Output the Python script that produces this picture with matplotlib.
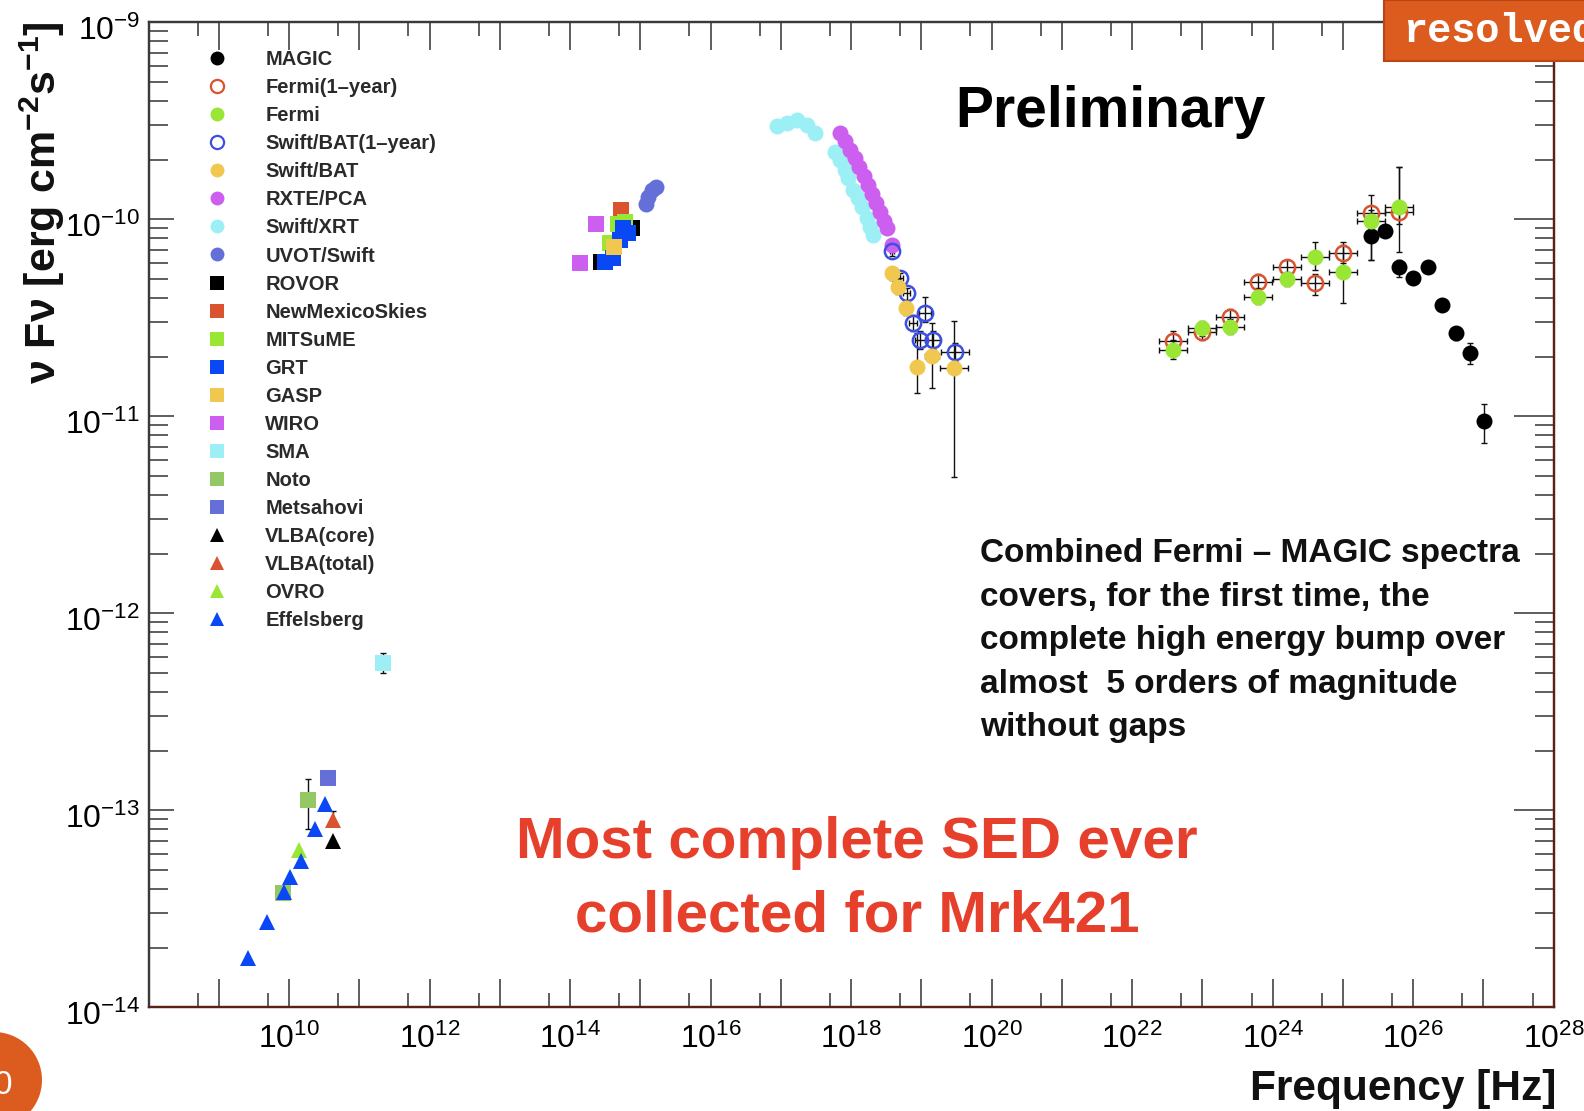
import matplotlib
matplotlib.use('Agg')
import matplotlib.pyplot as plt
import numpy as np
from matplotlib import font_manager
from matplotlib.lines import Line2D
from matplotlib.patches import Rectangle, Ellipse
from matplotlib.ticker import LogLocator, NullFormatter, FuncFormatter
from matplotlib.transforms import ScaledTranslation

plt.rcParams['font.family'] = ['Liberation Sans', 'DejaVu Sans']
plt.rcParams['mathtext.default'] = 'regular'

# ---------------- radio ----------------
effelsberg_nu = [2.64e9, 4.85e9, 8.35e9, 1.045e10, 1.46e10, 2.305e10, 3.2e10]
effelsberg_f = [1.77e-14, 2.72e-14, 3.85e-14, 4.59e-14, 5.55e-14, 8.0e-14, 1.08e-13]
ovro_nu = [1.4e10]
ovro_f = [6.28e-14]
noto_nu = [8.1e9, 1.88e10]
noto_f = [3.8e-14, 1.13e-13]
noto_lo = [3.6e-14, 8.0e-14]
noto_hi = [4.0e-14, 1.44e-13]
metsahovi_nu = [3.56e10]
metsahovi_f = [1.46e-13]
vlba_total_nu = [4.27e10]
vlba_total_f = [8.91e-14]
vlba_total_lo = [8.6e-14]
vlba_total_hi = [9.95e-14]
vlba_core_nu = [4.27e10]
vlba_core_f = [7.0e-14]
sma_nu = [2.2e11]
sma_f = [5.6e-13]
sma_lo = [5.0e-13]
sma_hi = [6.3e-13]

# ---------------- optical / UV ----------------
rovor_nu = [2.75e14, 7.62e14]
rovor_f = [6.07e-11, 9.0e-11]
nms_nu = [5.31e14]
nms_f = [1.11e-10]
mitsume_nu = [3.70e14, 4.85e14, 6.05e14]
mitsume_f = [7.55e-11, 9.46e-11, 9.7e-11]
grt_nu = [3.14e14, 4.08e14, 5.14e14, 5.68e14, 6.68e14]
grt_f = [6.08e-11, 6.35e-11, 7.83e-11, 9.0e-11, 8.5e-11]
gasp_nu = [4.22e14]
gasp_f = [7.24e-11]
wiro_nu = [1.38e14, 2.34e14]
wiro_f = [6.0e-11, 9.5e-11]
uvot_nu = [1.19e15, 1.30e15, 1.45e15, 1.67e15]
uvot_f = [1.19e-10, 1.30e-10, 1.41e-10, 1.45e-10]

# ---------------- X-ray ----------------
xrt_nu = [8.73e16, 1.21e17, 1.68e17, 2.33e17, 3.06e17, 5.90e17, 6.95e17, 8.19e17,
          9.12e17, 1.07e18, 1.27e18, 1.41e18, 1.67e18, 1.86e18, 2.07e18]
xrt_f = [2.97e-10, 3.09e-10, 3.19e-10, 3.01e-10, 2.75e-10, 2.20e-10, 2.0e-10, 1.78e-10,
         1.61e-10, 1.41e-10, 1.28e-10, 1.16e-10, 1.01e-10, 9.17e-11, 8.31e-11]
pca_nu = [6.95e17, 8.19e17, 9.64e17, 1.14e18, 1.29e18, 1.53e18, 1.74e18, 1.99e18,
          2.26e18, 2.58e18, 2.94e18, 3.24e18, 3.82e18]
pca_f = [2.74e-10, 2.50e-10, 2.25e-10, 2.05e-10, 1.84e-10, 1.66e-10, 1.49e-10, 1.34e-10,
         1.21e-10, 1.09e-10, 9.8e-11, 9.0e-11, 7.4e-11]
bat1y_nu = [3.82e18, 4.97e18, 6.18e18, 7.67e18, 9.57e18, 1.13e19, 1.48e19, 3.01e19]
bat1y_f = [6.93e-11, 5.01e-11, 4.21e-11, 2.96e-11, 2.44e-11, 3.33e-11, 2.44e-11, 2.12e-11]
bat1y_lo = [6.5e-11, 4.7e-11, 3.9e-11, 2.7e-11, 2.2e-11, 3.0e-11, 2.2e-11, 1.9e-11]
bat1y_hi = [7.4e-11, 5.35e-11, 4.5e-11, 3.25e-11, 2.7e-11, 4.05e-11, 2.7e-11, 2.35e-11]
bat1y_xdex = [0.03, 0.04, 0.05, 0.06, 0.07, 0.08, 0.1, 0.2]
bat_nu = [3.78e18, 4.70e18, 6.04e18, 8.58e18, 1.40e19, 2.92e19]
bat_f = [5.31e-11, 4.54e-11, 3.53e-11, 1.78e-11, 2.02e-11, 1.75e-11]
bat_lo = [4.9e-11, 4.15e-11, 3.25e-11, 1.31e-11, 1.39e-11, 4.93e-12]
bat_hi = [5.75e-11, 4.95e-11, 3.85e-11, 2.64e-11, 2.97e-11, 3.05e-11]
bat_xdex = [0.03, 0.04, 0.05, 0.07, 0.1, 0.2]

# ---------------- gamma-ray ----------------
fermi_nu = [3.86e22, 9.77e22, 2.47e23, 6.25e23, 1.58e24, 4.01e24, 1.01e25, 2.51e25, 6.35e25]
fermi_f = [2.17e-11, 2.79e-11, 2.85e-11, 4.04e-11, 4.96e-11, 6.45e-11, 5.41e-11, 9.8e-11, 1.15e-10]
fermi_lo = [1.95e-11, 2.55e-11, 2.6e-11, 3.7e-11, 4.6e-11, 5.5e-11, 3.76e-11, 8.5e-11, 6.8e-11]
fermi_hi = [2.45e-11, 3.05e-11, 3.1e-11, 4.4e-11, 5.4e-11, 7.7e-11, 7.4e-11, 1.12e-10, 1.85e-10]
fermi1y_nu = fermi_nu
fermi1y_f = [2.42e-11, 2.69e-11, 3.20e-11, 4.82e-11, 5.70e-11, 4.76e-11, 6.76e-11, 1.07e-10, 1.09e-10]
fermi1y_lo = [2.2e-11, 2.45e-11, 2.95e-11, 4.45e-11, 5.25e-11, 4.1e-11, 6.0e-11, 6.2e-11, 9.5e-11]
fermi1y_hi = [2.7e-11, 2.95e-11, 3.5e-11, 5.25e-11, 6.2e-11, 5.3e-11, 7.7e-11, 1.33e-10, 1.85e-10]
fermi_xdex = 0.2
magic_nu = [2.51e25, 3.97e25, 6.35e25, 1.00e26, 1.61e26, 2.55e26, 4.03e26, 6.44e26, 1.02e27]
magic_f = [8.22e-11, 8.75e-11, 5.70e-11, 5.01e-11, 5.70e-11, 3.66e-11, 2.65e-11, 2.10e-11, 9.46e-12]
magic_lo = [6.2e-11, 8.2e-11, 5.1e-11, 4.7e-11, 5.35e-11, 3.45e-11, 2.45e-11, 1.85e-11, 7.3e-12]
magic_hi = [9.0e-11, 9.3e-11, 6.2e-11, 5.35e-11, 6.05e-11, 3.9e-11, 2.85e-11, 2.35e-11, 1.15e-11]

C_LIME = '#99e635'
C_ORANGE = '#d9532f'
C_BLUE = '#0a47f5'
C_OPENBLUE = '#3d4fe0'
C_GOLD = '#f0c850'
C_VIOLET = '#cc5ef0'
C_CYAN = '#9cf0f5'
C_SLATE = '#6470d8'
C_NOTO = '#93c865'

W, H = 1584, 1111
fig = plt.figure(figsize=(W / 100, H / 100), dpi=100)
ax = fig.add_axes([148.5 / W, 1 - 1007.2 / H, 1405.2 / W, 985.0 / H])
ax.set_xscale('log')
ax.set_yscale('log')
ax.set_xlim(1e8, 1e28)
ax.set_ylim(1e-14, 1e-9)

MS = 11.5


def bars(nu, f, lo=None, hi=None, xdex=None, z=2):
    nu = np.asarray(nu, float)
    f = np.asarray(f, float)
    yerr = None
    xerr = None
    if lo is not None:
        yerr = [f - np.asarray(lo), np.asarray(hi) - f]
    if xdex is not None:
        d = np.asarray(xdex, float) * np.ones_like(nu)
        xerr = [nu - nu / 10 ** d, nu * 10 ** d - nu]
    ax.errorbar(nu, f, yerr=yerr, xerr=xerr, fmt='none', ecolor='#111111',
                elinewidth=1.0, capsize=2.5, capthick=1.0, zorder=z)


def pts(nu, f, marker, color, hollow=False, z=3):
    if hollow:
        ax.plot(nu, f, ls='none', marker=marker, ms=MS - 0.5, mfc='none', mec=color,
                mew=1.8, zorder=z)
    else:
        ax.plot(nu, f, ls='none', marker=marker, ms=MS, mfc=color, mec=color,
                mew=0, zorder=z)


# radio
bars(noto_nu, noto_f, noto_lo, noto_hi)
bars(vlba_total_nu, vlba_total_f, vlba_total_lo, vlba_total_hi)
bars(sma_nu, sma_f, sma_lo, sma_hi)
pts(noto_nu, noto_f, 's', C_NOTO)
pts(ovro_nu, ovro_f, '^', C_LIME)
pts(metsahovi_nu, metsahovi_f, 's', C_SLATE)
pts(vlba_core_nu, vlba_core_f, '^', 'black')
pts(vlba_total_nu, vlba_total_f, '^', C_ORANGE)
pts(effelsberg_nu, effelsberg_f, '^', C_BLUE)
pts(sma_nu, sma_f, 's', C_CYAN)

# optical / UV
pts(rovor_nu, rovor_f, 's', 'black')
pts(nms_nu, nms_f, 's', C_ORANGE)
pts(mitsume_nu, mitsume_f, 's', C_LIME)
pts(grt_nu, grt_f, 's', C_BLUE)
pts(gasp_nu, gasp_f, 's', C_GOLD)
pts(wiro_nu, wiro_f, 's', C_VIOLET)
pts(uvot_nu, uvot_f, 'o', C_SLATE)

# X-ray
pts(xrt_nu, xrt_f, 'o', C_CYAN)
pts(pca_nu, pca_f, 'o', C_VIOLET)
bars(bat1y_nu, bat1y_f, bat1y_lo, bat1y_hi, bat1y_xdex)
bars(bat_nu, bat_f, bat_lo, bat_hi, bat_xdex)
pts(bat1y_nu, bat1y_f, 'o', C_OPENBLUE, hollow=True, z=3)
pts(bat_nu, bat_f, 'o', C_GOLD, z=4)

# gamma-ray
bars(magic_nu, magic_f, magic_lo, magic_hi)
bars(fermi1y_nu, fermi1y_f, fermi1y_lo, fermi1y_hi, fermi_xdex)
bars(fermi_nu, fermi_f, fermi_lo, fermi_hi, fermi_xdex)
pts(magic_nu, magic_f, 'o', 'black', z=3)
pts(fermi1y_nu, fermi1y_f, 'o', C_ORANGE, hollow=True, z=4)
pts(fermi_nu, fermi_f, 'o', C_LIME, z=5)

# axes styling
have_narrow = any(f.name == 'Liberation Sans Narrow' for f in font_manager.fontManager.ttflist)
tick_family = 'Liberation Sans Narrow' if have_narrow else 'Liberation Sans'
tick_size = 28 if have_narrow else 23

ax.xaxis.set_major_locator(LogLocator(base=10, numticks=40))
ax.xaxis.set_minor_locator(LogLocator(base=10, subs=(5,), numticks=40))
ax.xaxis.set_minor_formatter(NullFormatter())
ax.yaxis.set_major_locator(LogLocator(base=10, numticks=20))
ax.yaxis.set_minor_locator(LogLocator(base=10, subs=np.arange(2, 10), numticks=20))
ax.yaxis.set_minor_formatter(NullFormatter())


def xfmt(v, pos):
    e = int(round(np.log10(v)))
    return '$10^{%d}$' % e if (e % 2 == 0 and e > 8) else ''


def yfmt(v, pos):
    e = int(round(np.log10(v)))
    return '$10^{%d}$' % e


ax.xaxis.set_major_formatter(FuncFormatter(xfmt))
ax.yaxis.set_major_formatter(FuncFormatter(yfmt))

ax.tick_params(axis='x', which='major', direction='in', length=20, width=1.1,
               top=True, bottom=True, color='#333333', pad=12)
ax.tick_params(axis='x', which='minor', direction='in', length=10, width=1.1,
               top=True, bottom=True, color='#333333')
ax.tick_params(axis='y', which='major', direction='in', length=18, width=1.1,
               left=True, right=False, color='#333333', pad=6)
ax.tick_params(axis='y', which='minor', direction='in', length=14, width=1.1,
               left=True, right=False, color='#333333')
ax.tick_params(labelsize=tick_size)

ax2 = ax.twinx()
ax2.set_yscale('log')
ax2.set_ylim(1e-14, 1e-9)
ax2.yaxis.set_major_locator(LogLocator(base=10, numticks=20))
ax2.yaxis.set_minor_locator(LogLocator(base=10, subs=np.arange(2, 10), numticks=20))
ax2.tick_params(axis='y', which='major', direction='in', length=29, width=1.1,
                color='#333333', labelright=False)
ax2.tick_params(axis='y', which='minor', direction='in', length=14, width=1.1,
                color='#333333', labelright=False)

for a in (ax, ax2):
    a.spines['left'].set_color('#3a3a3a')
    a.spines['top'].set_color('#3a3a3a')
    a.spines['bottom'].set_color('#5a2216')
    a.spines['right'].set_color('#5a2216')
    for s in a.spines.values():
        s.set_linewidth(1.6)

for lbl in ax.get_xticklabels() + ax.get_yticklabels():
    lbl.set_fontfamily(tick_family)

# legend
entries = [
    ('MAGIC', 'o', 'black', False), ('Fermi(1\u2013year)', 'o', C_ORANGE, True),
    ('Fermi', 'o', C_LIME, False), ('Swift/BAT(1\u2013year)', 'o', C_OPENBLUE, True),
    ('Swift/BAT', 'o', C_GOLD, False), ('RXTE/PCA', 'o', C_VIOLET, False),
    ('Swift/XRT', 'o', C_CYAN, False), ('UVOT/Swift', 'o', C_SLATE, False),
    ('ROVOR', 's', 'black', False), ('NewMexicoSkies', 's', C_ORANGE, False),
    ('MITSuME', 's', C_LIME, False), ('GRT', 's', C_BLUE, False),
    ('GASP', 's', C_GOLD, False), ('WIRO', 's', C_VIOLET, False),
    ('SMA', 's', C_CYAN, False), ('Noto', 's', C_NOTO, False),
    ('Metsahovi', 's', C_SLATE, False), ('VLBA(core)', '^', 'black', False),
    ('VLBA(total)', '^', C_ORANGE, False), ('OVRO', '^', C_LIME, False),
    ('Effelsberg', '^', C_BLUE, False),
]
handles = []
for name, m, c, hollow in entries:
    if hollow:
        handles.append(Line2D([], [], ls='none', marker=m, ms=9.5, mfc='none', mec=c, mew=1.6))
    else:
        handles.append(Line2D([], [], ls='none', marker=m, ms=10, mfc=c, mec=c, mew=0))
leg = ax.legend(handles, [e[0] for e in entries], loc='upper left',
                bbox_to_anchor=(0.0416, 0.9717), borderaxespad=0, borderpad=0,
                frameon=False, handlelength=1.0, handletextpad=1.9,
                labelspacing=0.45, prop={'weight': 'bold', 'size': 14.5})
for t in leg.get_texts():
    t.set_color('#2a2a2a')
leg.set_zorder(20)

# titles and annotations (multi-line texts are anchored on their last baseline)
fig.text(42 / W, 1 - 203 / H, '\u03bd F\u03bd [erg cm$^{-2}$s$^{-1}$]', rotation=90,
         ha='center', va='center', fontsize=31, fontweight='bold', color='#111111')
fig.text(1556 / W, 1 - 1100 / H, 'Frequency [Hz]', ha='right', va='baseline',
         fontsize=30.5, fontweight='bold', color='#111111')
fig.text(955 / W, 1 - 127 / H, 'Preliminary', ha='left', va='baseline',
         fontsize=41, fontweight='bold', color='black')
fig.text(980 / W, 1 - 736 / H,
         'Combined Fermi \u2013 MAGIC spectra\ncovers, for the first time, the\n'
         'complete high energy bump over\nalmost  5 orders of magnitude\nwithout gaps',
         ha='left', va='baseline', fontsize=24, fontweight='bold', color='#111111',
         linespacing=1.52)
fig.text(857 / W, 1 - 932 / H, 'Most complete SED ever\ncollected for Mrk421',
         ha='center', va='baseline', multialignment='center', fontsize=42,
         fontweight='bold', color='#e6402d', linespacing=1.48)

# slide decorations
fig.add_artist(Rectangle((1384 / W, 1 - 61 / H), 210 / W, 61 / H, transform=fig.transFigure,
                         fc='#dc5b1f', ec='#b84614', lw=1.5, zorder=30))
fig.text(1403 / W, 1 - 42 / H, 'resolved', color='white', family='Liberation Mono',
         fontweight='bold', fontsize=29, va='baseline', ha='left', zorder=31)
fig.add_artist(Ellipse((-6 / W, 1 - 1080 / H), 96 / W, 96 / H, transform=fig.transFigure,
                       fc='#dc5b1f', ec='none', zorder=30))
fig.text(-6 / W, 1 - 1086 / H, '0', color='white', fontsize=24, va='center', ha='left',
         zorder=31)

# nudge the y tick labels a little below their ticks
fig.canvas.draw()
shift = ScaledTranslation(0, -6 / 100, fig.dpi_scale_trans)
for tick in ax.yaxis.get_major_ticks():
    tick.label1.set_transform(tick.label1.get_transform() + shift)

fig.savefig('out.png', dpi=100)
